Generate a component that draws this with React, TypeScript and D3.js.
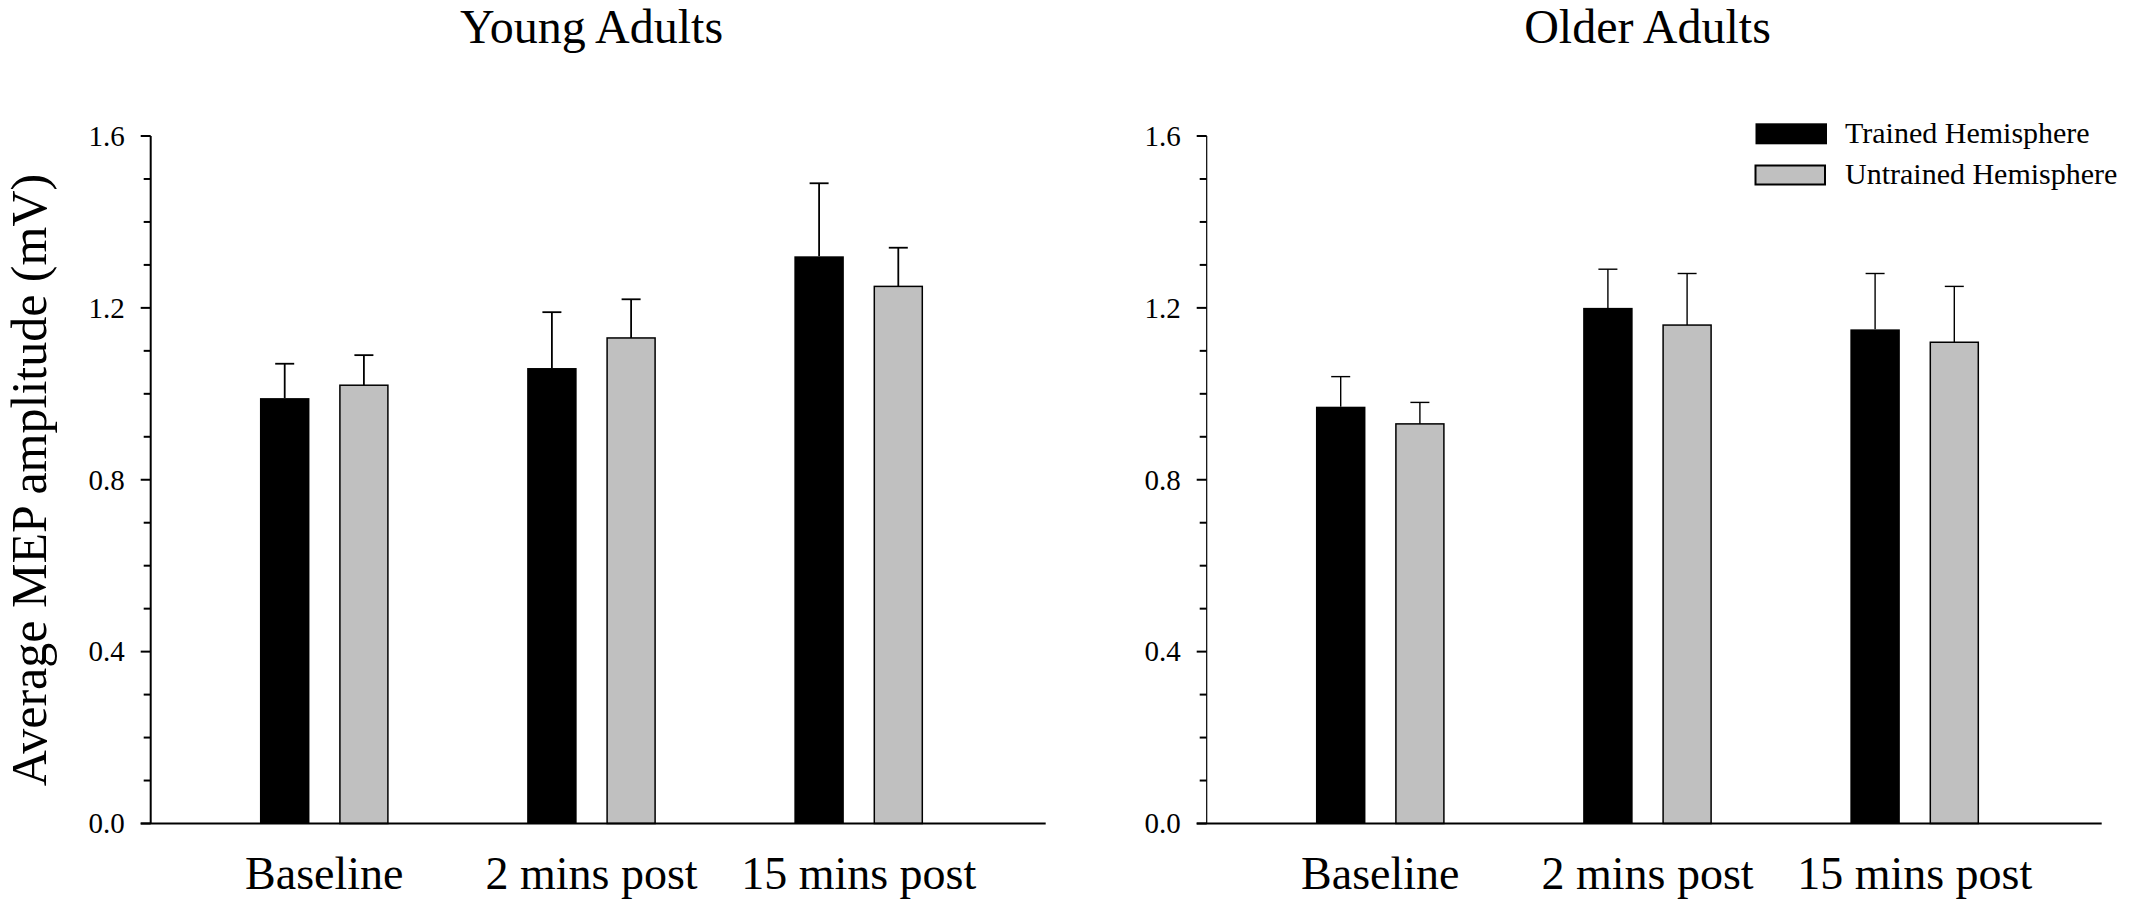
import React from "react";
import * as d3 from "d3";

const categories = ["Baseline", "2 mins post", "15 mins post"];
const series = ["Trained Hemisphere", "Untrained Hemisphere"];

const youngTrained = [0.99, 1.06, 1.32];
const youngTrainedErr = [0.08, 0.13, 0.17];
const youngUntrained = [1.02, 1.13, 1.25];
const youngUntrainedErr = [0.07, 0.09, 0.09];

const olderTrained = [0.97, 1.2, 1.15];
const olderTrainedErr = [0.07, 0.09, 0.13];
const olderUntrained = [0.93, 1.16, 1.12];
const olderUntrainedErr = [0.05, 0.12, 0.13];

const majorTicks = [0, 0.4, 0.8, 1.2, 1.6];
const minorTicks = [0.1, 0.2, 0.3, 0.5, 0.6, 0.7, 0.9, 1.0, 1.1, 1.3, 1.4, 1.5];

const W = 2133;
const H = 906;
const FONT = "'Liberation Serif', 'Times New Roman', serif";
const fills = ["#000000", "#c0c0c0"];

const y = d3.scaleLinear().domain([0, 1.6]).range([823.5, 136]);

type PanelProps = {
  axisX: number;
  title: string;
  values: number[][];
  errs: number[][];
  axisWidth: number;
  errWidth: number;
};

function Panel({ axisX, title, values, errs, axisWidth, errWidth }: PanelProps) {
  const step = 267.2;
  const p = 1 - 128.7 / step;
  const x0 = d3
    .scaleBand<string>()
    .domain(categories)
    .range([axisX + 40, axisX + 40 + step * 3])
    .paddingInner(p)
    .paddingOuter(p / 2);
  const x1 = d3
    .scaleBand<string>()
    .domain(series)
    .range([0, x0.bandwidth()])
    .paddingInner(0.375)
    .paddingOuter(0);
  const bw = x1.bandwidth();
  const capW = 19;

  return (
    <g>
      <text
        x={(x0(categories[1]) as number) + x0.bandwidth() / 2}
        y={43}
        textAnchor="middle"
        fontFamily={FONT}
        fontSize={48}
        fill="#000"
      >
        {title}
      </text>
      {/* bars */}
      {categories.map((c, ci) => (
        <g key={c} transform={`translate(${x0(c)},0)`}>
          {series.map((s, si) => {
            const v = values[si][ci];
            const e = errs[si][ci];
            const bx = x1(s) as number;
            const cx = bx + bw / 2;
            return (
              <g key={s}>
                <line
                  x1={cx}
                  x2={cx}
                  y1={y(v)}
                  y2={y(v + e)}
                  stroke="#000"
                  strokeWidth={errWidth}
                />
                <line
                  x1={cx - capW / 2}
                  x2={cx + capW / 2}
                  y1={y(v + e)}
                  y2={y(v + e)}
                  stroke="#000"
                  strokeWidth={errWidth}
                />
                <rect
                  x={si === 1 ? bx + 0.75 : bx}
                  y={y(v)}
                  width={si === 1 ? bw - 1.5 : bw}
                  height={y(0) - y(v)}
                  fill={fills[si]}
                  stroke="#000"
                  strokeWidth={si === 1 ? 1.5 : 0}
                />
              </g>
            );
          })}
          <text
            x={x0.bandwidth() / 2}
            y={889}
            textAnchor="middle"
            fontFamily={FONT}
            fontSize={46}
            fill="#000"
          >
            {c}
          </text>
        </g>
      ))}
      {/* y axis */}
      <line x1={axisX} x2={axisX} y1={y(1.6)} y2={y(0)} stroke="#000" strokeWidth={axisWidth} />
      {majorTicks.map((t) => (
        <g key={`M${t}`}>
          <line x1={axisX - 10} x2={axisX} y1={y(t)} y2={y(t)} stroke="#000" strokeWidth={2} />
          <text
            x={axisX - 26}
            y={y(t)}
            dy="0.34em"
            textAnchor="end"
            fontFamily={FONT}
            fontSize={29}
            fill="#000"
          >
            {d3.format(".1f")(t)}
          </text>
        </g>
      ))}
      {minorTicks.map((t) => (
        <line
          key={`m${t}`}
          x1={axisX - 7}
          x2={axisX}
          y1={y(t)}
          y2={y(t)}
          stroke="#000"
          strokeWidth={2}
        />
      ))}
      {/* x axis */}
      <line x1={axisX - 10} x2={axisX + 895} y1={y(0)} y2={y(0)} stroke="#000" strokeWidth={2} />
    </g>
  );
}

export default function App() {
  return (
    <svg
      width={W}
      height={H}
      viewBox={`0 0 ${W} ${H}`}
      style={{ position: "absolute", left: 0, top: 0, background: "#fff" }}
    >
      <rect x={0} y={0} width={W} height={H} fill="#fff" />
      <Panel
        axisX={150.7}
        title="Young Adults"
        values={[youngTrained, youngUntrained]}
        errs={[youngTrainedErr, youngUntrainedErr]}
        axisWidth={2}
        errWidth={1.8}
      />
      <Panel
        axisX={1206.7}
        title="Older Adults"
        values={[olderTrained, olderUntrained]}
        errs={[olderTrainedErr, olderUntrainedErr]}
        axisWidth={1.2}
        errWidth={1.4}
      />
      <text
        transform="translate(46,480) rotate(-90)"
        textAnchor="middle"
        fontFamily={FONT}
        fontSize={50}
        fill="#000"
      >
        Average MEP amplitude (mV)
      </text>
      {/* legend */}
      {series.map((s, i) => (
        <g key={s}>
          <rect
            x={1755.5}
            y={i === 0 ? 123.3 : 165.5}
            width={i === 0 ? 71.5 : 69.5}
            height={i === 0 ? 21 : 19}
            fill={fills[i]}
            stroke="#000"
            strokeWidth={i === 0 ? 0 : 2}
          />
          <text
            x={1845}
            y={i === 0 ? 143.3 : 184}
            fontFamily={FONT}
            fontSize={30}
            fill="#000"
          >
            {s}
          </text>
        </g>
      ))}
    </svg>
  );
}
